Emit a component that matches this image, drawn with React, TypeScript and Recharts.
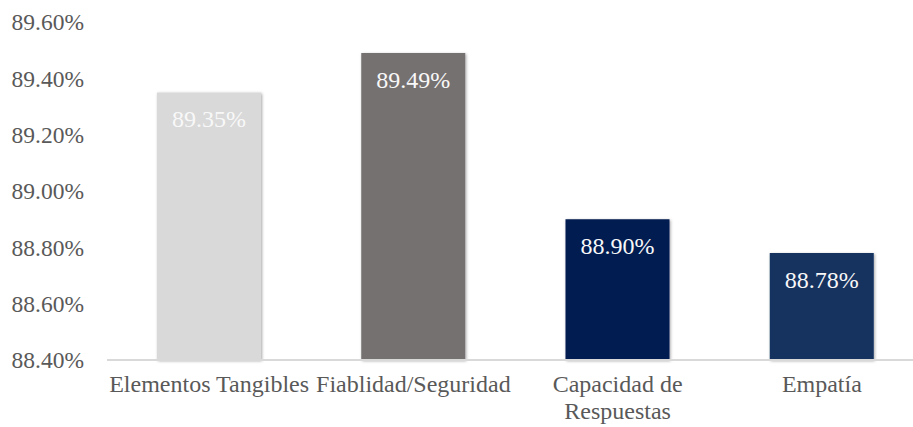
import React from 'react';
import { BarChart, Bar, XAxis, YAxis, Cell, LabelList } from 'recharts';

const categories = ['Elementos Tangibles', 'Fiablidad/Seguridad', 'Capacidad de Respuestas', 'Empatía'];
const values = [89.35, 89.49, 88.9, 88.78];
const barColors = ['#D9D9D9', '#767171', '#001D51', '#16305F'];
const yTicks = [88.4, 88.6, 88.8, 89.0, 89.2, 89.4, 89.6];

const data = categories.map((name, i) => ({ name, value: values[i] }));

const FONT = "'Liberation Serif', 'Times New Roman', serif";
const TEXT_GRAY = '#595959';

const pct = (v: number) => `${v.toFixed(2)}%`;

// greedy word wrap measured with a canvas, since the category labels break at the band width
let ctx: CanvasRenderingContext2D | null = null;
const wrap = (label: string, maxWidth: number, font: string) => {
  if (!ctx) ctx = document.createElement('canvas').getContext('2d');
  if (!ctx) return [label];
  ctx.font = font;
  const lines: string[] = [];
  let cur = '';
  label.split(' ').forEach((w) => {
    const next = cur ? `${cur} ${w}` : w;
    if (cur && ctx!.measureText(next).width > maxWidth) {
      lines.push(cur);
      cur = w;
    } else {
      cur = next;
    }
  });
  if (cur) lines.push(cur);
  return lines;
};

const CategoryTick = (props: any) => {
  const { x, y, payload } = props;
  const lines = wrap(String(payload.value), 215, `24px ${FONT}`);
  return (
    <text x={x} y={y} textAnchor="middle" fill={TEXT_GRAY} style={{ fontFamily: FONT, fontSize: 24 }}>
      {lines.map((l, i) => (
        <tspan key={i} x={x} dy={i === 0 ? 22 : 27}>
          {l}
        </tspan>
      ))}
    </text>
  );
};

export default function App() {
  return (
    <div style={{ position: 'fixed', top: 0, left: 0, width: 913, height: 427, overflow: 'hidden', background: '#fff', fontFamily: FONT }}>
      <BarChart width={930} height={427} data={data} margin={{ top: 22, right: 6, bottom: 0, left: 0 }}>
        <defs>
          <filter id="barShadow" x="-10%" y="-10%" width="120%" height="120%">
            <feDropShadow dx="1" dy="1" stdDeviation="1.5" floodColor="#000" floodOpacity="0.35" />
          </filter>
        </defs>
        <XAxis
          dataKey="name"
          axisLine={{ stroke: '#D9D9D9', strokeWidth: 2 }}
          tickLine={false}
          tickSize={0}
          tickMargin={10}
          height={67}
          interval={0}
          tick={<CategoryTick />}
        />
        <YAxis
          domain={[88.4, 89.6]}
          ticks={yTicks}
          width={107}
          axisLine={false}
          tickLine={false}
          tickSize={0}
          tickMargin={23}
          tickFormatter={pct}
          tick={{ fill: TEXT_GRAY, style: { fontFamily: FONT, fontSize: 23.5 } }}
        />
        <Bar dataKey="value" barSize={104} isAnimationActive={false} style={{ filter: 'url(#barShadow)' }}>
          {data.map((d, i) => (
            <Cell key={d.name} fill={barColors[i]} />
          ))}
          <LabelList
            dataKey="value"
            position="insideTop"
            offset={18}
            formatter={(v: any) => pct(Number(v))}
            fill="#F8F8F8"
            style={{ fontFamily: FONT, fontSize: 24 }}
          />
        </Bar>
      </BarChart>
    </div>
  );
}
